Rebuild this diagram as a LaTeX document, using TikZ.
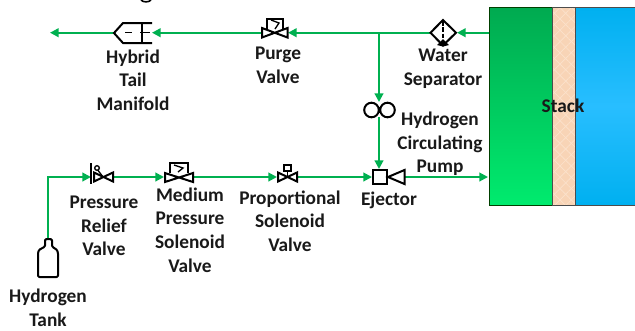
\documentclass[tikz,border=0pt]{standalone}
\usepackage{fontspec}
\setmainfont{Carlito}[BoldFont={Carlito Bold}]
\usetikzlibrary{arrows.meta,patterns.meta}
\definecolor{pipe}{RGB}{0,176,80}
\definecolor{peach}{RGB}{248,212,182}
\definecolor{peachl}{RGB}{252,226,204}
\definecolor{gtop}{RGB}{0,170,80}
\definecolor{gbot}{RGB}{0,235,110}
\definecolor{bedge}{RGB}{0,176,240}
\definecolor{bmid}{RGB}{40,190,255}
\tikzset{
  x=0.75pt,y=-0.75pt,
  pipeline/.style={draw=pipe,line width=1.5pt,-{Triangle[length=6.5pt,width=6.5pt]}},
  plainpipe/.style={draw=pipe,line width=1.5pt},
  sym/.style={draw=black,line width=1.5pt,line join=miter},
  thin sym/.style={draw=black,line width=1pt},
  lbl/.style={font=\bfseries\fontsize{14.5}{17.7}\selectfont,align=center,text=black!90,inner sep=0pt,anchor=center},
}
\begin{document}
\begin{tikzpicture}
\useasboundingbox (0,0) rectangle (635,330);
% clipped remnant at the top edge
\draw[black,line width=1.2pt] (141,0) .. controls (143,2.5) and (149,2.5) .. (151,0);
% stack
\shade[top color=gtop,bottom color=gbot] (489,7) rectangle (552,205);
\fill[peach] (552,7) rectangle (575,205);
\fill[pattern={Lines[angle=45,distance=6pt,line width=0.5pt]},pattern color=peachl] (552,7) rectangle (575,205);
\fill[pattern={Lines[angle=-45,distance=6pt,line width=0.5pt]},pattern color=peachl] (552,7) rectangle (575,205);
\shade[top color=bedge,bottom color=bedge,middle color=bmid] (575,7) rectangle (635,205);
\draw[black!75!green,line width=0.7pt] (489,7) rectangle (552,205);
\draw[black!70,line width=0.7pt] (552,7) rectangle (575,205);
\draw[black!70,line width=0.7pt] (575,7) -- (635,7) (575,205) -- (635,205);
\node[lbl] (stack) at (563,106) {Stack};
% anchors
\coordinate (stackout) at (489,32.7);
\coordinate (stackin) at (488,177);
\coordinate (sepR) at (457,32.7);
\coordinate (sepL) at (430,32.7);
\coordinate (tee) at (379,32.7);
\coordinate (purgeR) at (288,32.7);
\coordinate (purgeL) at (262,32.7);
\coordinate (manR) at (152,32.7);
\coordinate (manL) at (114,32.7);
\coordinate (end) at (50,32.7);
\coordinate (pumpT) at (379,102);
\coordinate (pumpB) at (379,117);
\coordinate (ejT) at (379,169);
\coordinate (ejL) at (372,177);
\coordinate (ejR) at (405,177);
\coordinate (tankT) at (48,239);
\coordinate (corner) at (48,177);
\coordinate (prvIn) at (91,177);
\coordinate (prvOut) at (112,177);
\coordinate (mpIn) at (164,177);
\coordinate (mpOut) at (193,177);
\coordinate (psIn) at (277,177);
\coordinate (psOut) at (296,177);
% connectors
\draw[pipeline] (stackout) -- (sepR);
\draw[plainpipe] (sepL) -- (tee);
\draw[pipeline] (tee) -- (purgeR);
\draw[pipeline] (purgeL) -- (manR);
\draw[pipeline] (manL) -- (end);
\draw[pipeline] (tee) -- (pumpT);
\draw[pipeline] (pumpB) -- (ejT);
\draw[pipeline] (ejR) -- (stackin);
\draw[pipeline] (psOut) -- (ejL);
\draw[pipeline] (mpOut) -- (psIn);
\draw[pipeline] (prvOut) -- (mpIn);
\draw[pipeline,line join=miter] (tankT) -- (corner) -- (prvIn);
% water separator
\draw[sym,fill=white] (443,20) -- (456,32.7) -- (443,45.5) -- (430.5,32.7) -- cycle;
\fill (443,39) -- (449,45) -- (443,46.5) -- (437,45) -- cycle;
\draw[black,line width=0.9pt,dash pattern=on 3.5pt off 1.2pt] (443,21) -- (443,39);
% pump
\draw[sym,fill=white] (371.5,110) circle (7.3);
\draw[sym,fill=white] (387.5,110) circle (7.3);
\draw[black,line width=1.5pt] (379,107) -- (379,113);
% ejector
\draw[sym,fill=white] (373,170) rectangle (387,184);
\draw[sym] (388,177) -- (404.5,170) -- (404.5,184) -- cycle;
% purge valve
\draw[sym] (262,28) -- (262,37.5) -- (287.5,28) -- (287.5,37.5) -- cycle;
\draw[sym] (267,29) -- (267,19) -- (283,19) -- (283,29);
\draw[thin sym] (271,20) -- (279,23) -- (275,29);
% manifold
\draw[sym] (152,23) -- (123,23) -- (114,33) -- (123,43) -- (152,43);
\draw[sym] (142,23) -- (142,43);
\draw[thin sym] (125,32.7) -- (132,32.7) (140,32.7) -- (150,32.7);
% PRV
\draw[sym] (90.5,163) -- (90.5,184);
\draw[sym] (94,172.5) -- (113,181.5) -- (113,172.5) -- (94,181.5) -- cycle;
\draw[thin sym] (97,169) -- (103,177);
\draw[black,line width=1pt,fill=white] (97,168) circle (2.3);
% medium valve
\draw[sym] (165,173) -- (193,182) -- (193,173) -- (165,182) -- cycle;
\draw[sym] (170,173) -- (170,163) -- (188,163) -- (188,173);
\draw[thin sym] (174,165) -- (183,168) -- (178,172);
% proportional valve
\draw[sym] (278,172.5) -- (297,181.5) -- (297,172.5) -- (278,181.5) -- cycle;
\draw[thin sym] (287.5,177) -- (287.5,171);
\draw[sym] (284,165) rectangle (291,171);
% tank
\draw[sym,line join=round,fill=white,rounded corners=1pt] (38,277) -- (38,255) .. controls (38,250) and (41,248) .. (45,247) -- (45,239) -- (52,239) -- (52,247) .. controls (55,248) and (58,250) .. (58,255) -- (58,277) -- cycle;
% labels
\node[lbl] (hybrid) at (133,80) {Hybrid\\Tail\\Manifold};
\node[lbl] (purge) at (278,65) {Purge\\Valve};
\node[lbl] (water) at (443,69) {Water\\Separator};
\node[lbl] (hcp) at (440,144) {Hydrogen\\Circulating\\Pump};
\node[lbl] (ej) at (389,200) {Ejector};
\node[lbl] (prv) at (104,226) {Pressure\\Relief\\Valve};
\node[lbl] (mp) at (190,230) {Medium\\Pressure\\Solenoid\\Valve};
\node[lbl] (ps) at (290,221) {Proportional\\Solenoid\\Valve};
\node[lbl] (tank) at (48,307.5) {Hydrogen\\Tank};
\end{tikzpicture}
\end{document}
